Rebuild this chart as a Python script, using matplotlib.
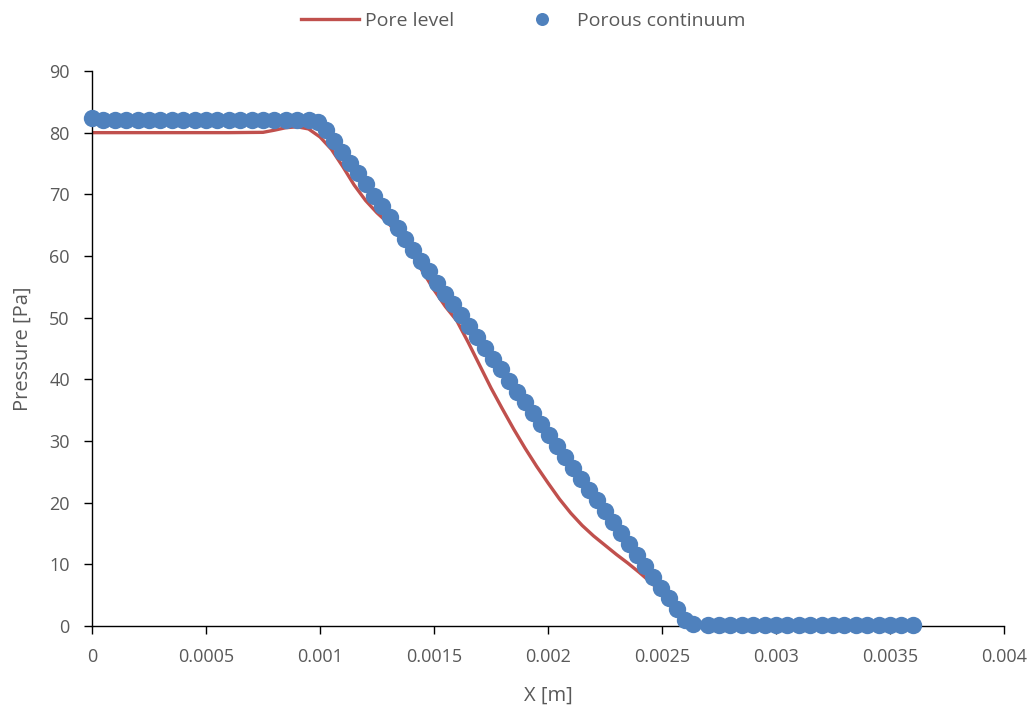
import numpy as np
import matplotlib
matplotlib.use('Agg')
import matplotlib.pyplot as plt
from matplotlib.ticker import MultipleLocator

# Pore level (line)
pore_x = [0.0, 0.0002, 0.0004, 0.0006, 0.00075, 0.0008, 0.00085, 0.0009, 0.00095,
          0.001, 0.00105, 0.0011, 0.00115, 0.0012, 0.00125, 0.0013, 0.00135, 0.0014,
          0.00145, 0.0015, 0.00155, 0.0016, 0.00165, 0.0017, 0.00175, 0.0018, 0.00185,
          0.0019, 0.00195, 0.002, 0.00205, 0.0021, 0.00215, 0.0022, 0.00225, 0.0023,
          0.00235, 0.0024, 0.00245, 0.0025, 0.00255, 0.0026, 0.00265, 0.0027, 0.0036]
pore_p = [80.0, 80.0, 80.0, 80.0, 80.05, 80.4, 80.8, 80.95, 80.6,
          79.3, 77.3, 74.5, 71.5, 69.0, 67.0, 65.3, 63.3, 60.5,
          57.5, 54.5, 51.8, 49.5, 46.0, 42.3, 38.6, 35.2, 31.9,
          28.8, 25.9, 23.2, 20.6, 18.3, 16.3, 14.6, 13.1, 11.6,
          10.2, 8.7, 7.1, 5.4, 3.5, 1.5, 0.1, 0.0, 0.0]

# Porous continuum (markers)
porous_x = [0.0, 0.00005, 0.0001, 0.00015, 0.0002, 0.00025, 0.0003, 0.00035, 0.0004,
            0.00045, 0.0005, 0.00055, 0.0006, 0.00065, 0.0007, 0.00075, 0.0008,
            0.00085, 0.0009, 0.00095,
            0.00099, 0.001025, 0.00106, 0.001095, 0.00113, 0.001165, 0.0012, 0.001235,
            0.00127, 0.001305, 0.00134, 0.001375, 0.00141, 0.001445, 0.00148, 0.001515,
            0.00155, 0.001585, 0.00162, 0.001655, 0.00169, 0.001725, 0.00176, 0.001795,
            0.00183, 0.001865, 0.0019, 0.001935, 0.00197, 0.002005, 0.00204, 0.002075,
            0.00211, 0.002145, 0.00218, 0.002215, 0.00225, 0.002285, 0.00232, 0.002355,
            0.00239, 0.002425, 0.00246, 0.002495, 0.00253, 0.002565, 0.0026, 0.002635,
            0.0027, 0.00275, 0.0028, 0.00285, 0.0029, 0.00295, 0.003, 0.00305, 0.0031,
            0.00315, 0.0032, 0.00325, 0.0033, 0.00335, 0.0034, 0.00345, 0.0035, 0.00355,
            0.0036]
porous_p = [82.3, 82.1, 82.1, 82.1, 82.1, 82.1, 82.1, 82.1, 82.1,
            82.1, 82.1, 82.1, 82.1, 82.1, 82.1, 82.1, 82.1,
            82.1, 82.1, 82.0,
            81.7, 80.4, 78.6, 76.9, 75.1, 73.4, 71.6, 69.8,
            68.1, 66.3, 64.5, 62.8, 61.0, 59.2, 57.5, 55.7,
            53.9, 52.2, 50.4, 48.6, 46.9, 45.1, 43.3, 41.6,
            39.8, 38.0, 36.3, 34.5, 32.7, 31.0, 29.2, 27.4,
            25.7, 23.9, 22.1, 20.4, 18.6, 16.8, 15.1, 13.3,
            11.5, 9.8, 8.0, 6.2, 4.5, 2.7, 1.0, 0.3,
            0.2, 0.2, 0.2, 0.2, 0.2, 0.2, 0.2, 0.2, 0.2,
            0.2, 0.2, 0.2, 0.2, 0.2, 0.2, 0.2, 0.2, 0.2,
            0.2]

x_ticks = [0, 0.0005, 0.001, 0.0015, 0.002, 0.0025, 0.003, 0.0035, 0.004]
x_labels = ['0', '0.0005', '0.001', '0.0015', '0.002', '0.0025', '0.003', '0.0035', '0.004']

plt.rcParams['font.family'] = ['Open Sans', 'DejaVu Sans']
txt = '#595959'

fig = plt.figure(figsize=(10.36, 7.12), dpi=100)
ax = fig.add_axes([0.0888, 0.1208, 0.8803, 0.7795])

ax.plot(pore_x, pore_p, color='#C0504D', linewidth=2.4, label='Pore level', zorder=2)
ax.plot(porous_x, porous_p, linestyle='none', marker='o', markersize=12.5,
        color='#4F81BD', markeredgewidth=0, label='Porous continuum', zorder=3,
        clip_on=False)

ax.set_xlim(0, 0.004)
ax.set_ylim(0, 90)
ax.set_xticks(x_ticks)
ax.set_xticklabels(x_labels)
ax.yaxis.set_major_locator(MultipleLocator(10))

ax.spines['top'].set_visible(False)
ax.spines['right'].set_visible(False)
for s in ['left', 'bottom']:
    ax.spines[s].set_color('black')
    ax.spines[s].set_linewidth(1.0)

ax.tick_params(direction='out', length=6, width=1, colors='black',
               labelcolor=txt, labelsize=13, pad=10)

ax.set_xlabel('X [m]', fontsize=14.5, color=txt, labelpad=14)
ax.set_ylabel('Pressure [Pa]', fontsize=14.5, color=txt, labelpad=12)

leg = fig.legend(loc='upper center', bbox_to_anchor=(0.505, 1.008), ncol=2,
                 frameon=False, fontsize=14, handlelength=3.0, columnspacing=3.0,
                 handletextpad=0.3, markerscale=0.75)
for t in leg.get_texts():
    t.set_color(txt)

fig.savefig('out.png', dpi=100)
